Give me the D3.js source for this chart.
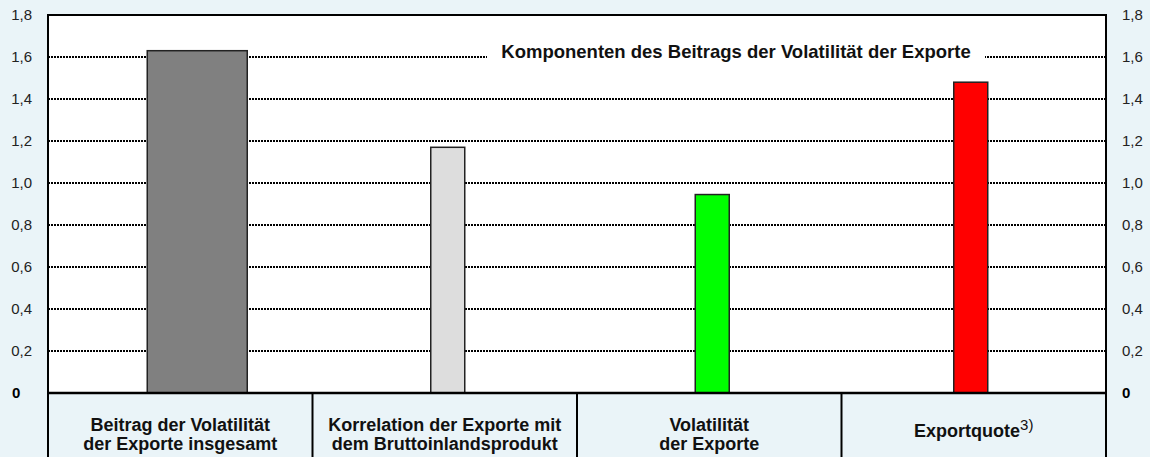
<!DOCTYPE html>
<html><head><meta charset="utf-8">
<script src="https://cdn.jsdelivr.net/npm/d3@7"></script>
<style>body{margin:0;background:#eaf4f8;}svg{display:block;font-family:"Liberation Sans",Arial,sans-serif;}</style>
</head><body><svg id="c" width="1150" height="457"></svg>
<script>
const categories = [
  ["Beitrag der Volatilität", "der Exporte insgesamt"],
  ["Korrelation der Exporte mit", "dem Bruttoinlandsprodukt"],
  ["Volatilität", "der Exporte"],
  ["Exportquote"]
];
const values = [1.63, 1.17, 0.945, 1.48];
const barColors = ["#808080", "#dddddd", "#00ff00", "#ff0000"];
const tickValues = [0.2, 0.4, 0.6, 0.8, 1.0, 1.2, 1.4, 1.6, 1.8];
const tickLabels = ["0,2", "0,4", "0,6", "0,8", "1,0", "1,2", "1,4", "1,6", "1,8"];
const title = "Komponenten des Beitrags der Volatilität der Exporte";

// layout / style
const L = 48, R = 1106, T = 15, B = 393;
const barW = [100, 34, 34, 34];
const barShift = [17, 3, 3, -3];

const svg = d3.select("#c");
const x = d3.scaleBand().domain(d3.range(categories.length)).range([L, R]).padding(0);
const y = d3.scaleLinear().domain([0, 1.8]).range([B, T]);

svg.append("rect").attr("x", L).attr("y", T).attr("width", R - L).attr("height", B - T).attr("fill", "#fff");

// grid
svg.append("g").selectAll("line").data(tickValues.slice(0, -1)).join("line")
  .attr("x1", L).attr("x2", R).attr("y1", d => y(d)).attr("y2", d => y(d))
  .attr("stroke", "#000").attr("stroke-width", 2).attr("stroke-dasharray", "2,1");

// title box
const tg = svg.append("g");
tg.append("rect").attr("x", 487).attr("y", 42).attr("width", 498).attr("height", 26).attr("fill", "#fff");
tg.append("text").attr("x", 736).attr("y", 58).attr("text-anchor", "middle")
  .attr("font-weight", "bold").attr("font-size", 18.5).attr("fill", "#111").text(title);

// bars
svg.append("g").selectAll("rect").data(values).join("rect")
  .attr("x", (d, i) => x(i) + x.bandwidth() / 2 + barShift[i] - barW[i] / 2)
  .attr("width", (d, i) => barW[i])
  .attr("y", d => y(d)).attr("height", d => y(0) - y(d))
  .attr("fill", (d, i) => barColors[i]).attr("stroke", "#222").attr("stroke-width", 1.5);

// plot border
svg.append("rect").attr("x", L).attr("y", T).attr("width", R - L).attr("height", B - T)
  .attr("fill", "none").attr("stroke", "#000").attr("stroke-width", 2);

// category boxes
const cg = svg.append("g");
cg.selectAll("line").data(d3.range(categories.length + 1)).join("line")
  .attr("x1", i => i < categories.length ? x(i) : R).attr("x2", i => i < categories.length ? x(i) : R)
  .attr("y1", B).attr("y2", 460).attr("stroke", "#000").attr("stroke-width", 2);
svg.append("line").attr("x1", L).attr("x2", R).attr("y1", B).attr("y2", B).attr("stroke", "#000").attr("stroke-width", 2.5);

categories.forEach((lines, i) => {
  const cx = x(i) + x.bandwidth() / 2;
  const t = cg.append("text").attr("text-anchor", "middle").attr("font-weight", "bold").attr("font-size", 18).attr("fill", "#111");
  if (lines.length === 2) {
    t.append("tspan").attr("x", cx).attr("y", 431).text(lines[0]);
    t.append("tspan").attr("x", cx).attr("y", 450).text(lines[1]);
  } else {
    t.attr("x", cx).attr("y", 437);
    t.append("tspan").text(lines[0]);
    t.append("tspan").attr("font-size", 15).attr("font-weight", "normal").attr("dy", -7).text("3)");
  }
});

// axis labels
const axL = svg.append("g"), axR = svg.append("g");
axL.selectAll("text").data(tickValues).join("text")
  .attr("x", 32).attr("y", d => y(d)).attr("dy", "0.35em").attr("text-anchor", "end")
  .attr("font-size", 15).attr("fill", "#222").text((d, i) => tickLabels[i]);
axR.selectAll("text").data(tickValues).join("text")
  .attr("x", 1122).attr("y", d => y(d)).attr("dy", "0.35em").attr("text-anchor", "start")
  .attr("font-size", 15).attr("fill", "#222").text((d, i) => tickLabels[i]);
svg.append("text").attr("x", 12).attr("y", y(0)).attr("dy", "0.35em").attr("font-weight", "bold").attr("font-size", 15).text("0");
svg.append("text").attr("x", 1122).attr("y", y(0)).attr("dy", "0.35em").attr("font-weight", "bold").attr("font-size", 15).text("0");
</script></body></html>
